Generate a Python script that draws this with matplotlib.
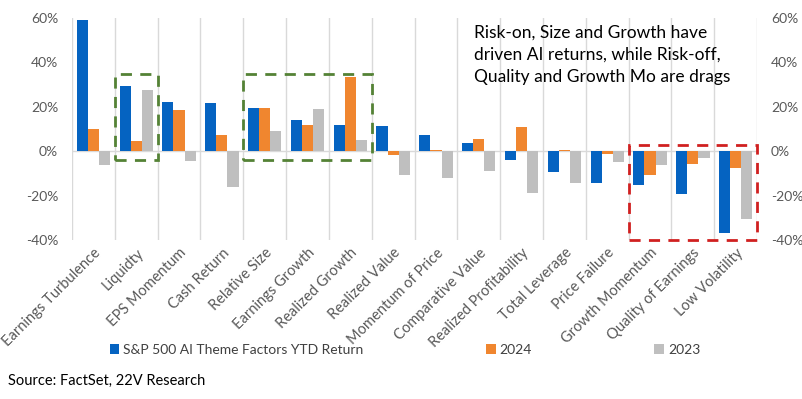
import numpy as np
import matplotlib.pyplot as plt
from matplotlib.patches import Rectangle

plt.rcParams['font.family'] = ['Lato', 'DejaVu Sans']

# Data (percent)
factors = ['Earnings Turbulence', 'Liquidty', 'EPS Momentum', 'Cash Return',
           'Relative Size', 'Earnings Growth', 'Realized Growth', 'Realized Value',
           'Momentum of Price', 'Comparative Value', 'Realized Profitability',
           'Total Leverage', 'Price Failure', 'Growth Momentum',
           'Quality of Earnings', 'Low Volatility']
ytd = [59.1, 29.3, 22.1, 21.7, 19.4, 14.0, 11.7, 11.3, 7.2, 3.6, -4.1, -9.5,
       -14.3, -15.2, -19.2, -36.8]
y2024 = [9.9, 4.5, 18.5, 7.2, 19.4, 11.7, 33.4, -1.7, 0.5, 5.6, 10.8, 0.5,
         -1.2, -10.7, -5.7, -7.5]
y2023 = [-6.2, 27.5, -4.5, -16.1, 9.0, 19.0, 5.0, -10.7, -12.0, -8.9, -18.8,
         -14.3, -4.8, -6.2, -3.0, -30.5]
series_names = ['S&P 500 AI Theme Factors YTD Return', '2024', '2023']
colors = ['#0563C1', '#F0862F', '#BFBFBF']

fig = plt.figure(figsize=(8.02, 3.99), dpi=100)
ax = fig.add_axes([0.0898, 0.398, 0.8542, 0.557])

x = np.arange(len(factors))
w = 0.26
for i, (vals, name, c) in enumerate(zip([ytd, y2024, y2023], series_names, colors)):
    ax.bar(x + (i - 1) * w, vals, width=w, color=c, label=name, zorder=3)

ax.set_xlim(-0.5, len(factors) - 0.5)
ax.set_ylim(-40, 60)
ax.set_yticks(np.arange(-40, 61, 20))
ax.set_yticklabels([f'{v}%' for v in range(-40, 61, 20)])

# vertical gridlines at category boundaries
for b in np.arange(-0.5, len(factors), 1.0):
    ax.axvline(b, color='#D9D9D9', lw=1, zorder=1)
ax.axhline(0, color='#D9D9D9', lw=1, zorder=2)

for s in ax.spines.values():
    s.set_visible(False)
ax.tick_params(axis='both', length=0, colors='#595959', labelsize=10)
ax.tick_params(axis='y', labelright=True, pad=10)
ax.tick_params(axis='x', pad=4)
ax.set_xticks(x)
ax.set_xticklabels(factors, rotation=45, ha='right', rotation_mode='anchor',
                   color='#595959', fontsize=10.5)

# highlight boxes
boxes = [(0.5, 1.5, -4, 34.8, '#548235'), (3.5, 6.5, -4, 34.8, '#548235'),
         (12.5, 15.5, -39.7, 2.7, '#D02020')]
for x0, x1, y0, y1, c in boxes:
    ax.add_patch(Rectangle((x0, y0), x1 - x0, y1 - y0, fill=False, ec=c,
                           lw=2, ls=(0, (4, 3)), zorder=4, clip_on=False))

ax.text(8.9, 57.2, 'Risk-on, Size and Growth have\ndriven AI returns, while Risk-off,\n'
        'Quality and Growth Mo are drags', fontsize=12.5, va='top', ha='left',
        linespacing=1.5, color='black')

fig.legend(loc='center', bbox_to_anchor=(0.505, 0.123), ncol=3, frameon=False,
           fontsize=10, handlelength=0.7, handleheight=0.7, handletextpad=0.3,
           columnspacing=8.8, labelcolor='#404040')

fig.text(0.01, 0.035, 'Source: FactSet, 22V Research', fontsize=10.5)

fig.savefig('out.png', dpi=100)
